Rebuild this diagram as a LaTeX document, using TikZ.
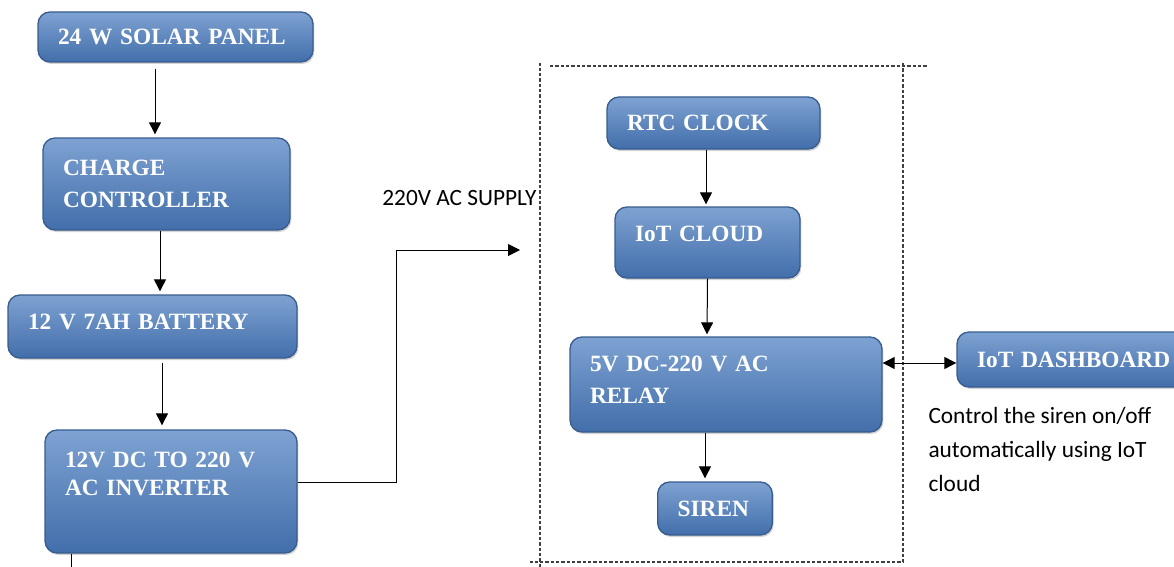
\documentclass[tikz,border=0pt]{standalone}
\usepackage{fontspec}
\setmainfont{Liberation Serif}
\newfontfamily\calibfont{Carlito}
\usetikzlibrary{arrows.meta,shadows,calc}

\definecolor{blktop}{RGB}{126,162,210}
\definecolor{blkbot}{RGB}{66,110,170}
\definecolor{blkedge}{RGB}{56,92,142}

\tikzset{every picture/.style={line width=0.75pt}}

\begin{document}
\begin{tikzpicture}[x=0.75pt,y=0.75pt,yscale=-1,xscale=1,
  blk/.style={rectangle, rounded corners=9pt, top color=blktop, bottom color=blkbot, draw=blkedge, line width=1pt,
    drop shadow={shadow xshift=1pt,shadow yshift=-1.5pt,opacity=0.35},
    align=left, inner xsep=15pt, inner ysep=2pt, text=white, font=\fontsize{17.5}{24}\selectfont\bfseries},
  arr/.style={-{Triangle[length=9pt,width=9pt]}},
  arr2/.style={{Triangle[length=9pt,width=9pt]}-{Triangle[length=9pt,width=9pt]}},
  dashbox/.style={draw=black!75, dash pattern=on 2.5pt off 1.5pt, line width=0.9pt},
  note/.style={font=\calibfont\fontsize{17.5}{25.5}\selectfont, inner sep=0pt}]
\useasboundingbox (0,0) rectangle (1174,567);

%Dashed frame round the IoT part
\draw[dashbox] (540,567) -- (540,63);
\draw[dashbox] (550,66) -- (928,66);
\draw[dashbox] (903,63) -- (903,562) -- (530,562);

%Power side
\node[blk, text width=176.25pt, minimum height=37.5pt] (solar) at (175.5,37) {24 W SOLAR PANEL};
\node[blk, text width=155.25pt, minimum height=69pt] (charge) at (166.5,184) {CHARGE\\CONTROLLER};
\node[blk, text width=186.75pt, minimum height=47.25pt, text depth=7pt] (batt) at (152.5,326.5) {12 V 7AH BATTERY};
\node[blk, text width=159pt, minimum height=92.25pt, text depth=47pt, font=\fontsize{17.5}{21}\selectfont\bfseries] (inv) at (171,491.5) {12V DC TO 220 V\\AC INVERTER};

%IoT side
\node[blk, text width=129.75pt, minimum height=39pt] (rtc) at (713.5,123) {RTC CLOCK};
\node[blk, text width=108.75pt, minimum height=53.25pt, text depth=13pt] (cloud) at (707.5,242.5) {IoT CLOUD};
\node[blk, text width=204pt, minimum height=71.25pt, text depth=30.5pt] (relay) at (726,384.5) {5V DC-220 V AC\\RELAY};
\node[blk, text width=56pt, minimum height=39.75pt] (siren) at (715,508.5) {SIREN};
\node[blk, text width=150pt, minimum height=41.25pt] (dash) at (1077,359.5) {IoT DASHBOARD};

% Text Node
\node[note, anchor=east] (acsup) at (537,198) {220V AC SUPPLY};
% Text Node
\node[note, align=left, anchor=north west] (ctrl) at (928,407) {Control the siren on/off\\automatically using IoT\\cloud};

%Connectors
\coordinate (bend) at (396,250);
\coordinate (acin) at (520,250);
\coordinate (invout) at (71,575);
\draw[arr] ($(solar.south)+(-20.5,6)$) -- ($(charge.north)+(-11.5,-3)$);
\draw[arr] ($(charge.south)+(-6.5,0)$) -- ($(batt.north)+(7.5,-3)$);
\draw[arr] ($(batt.south)+(9.5,4)$) -- ($(inv.north)+(-9,-4)$);
\draw[arr] ($(inv.east)+(0,-9)$) -| (bend) -- (acin);
\draw (inv.south -| invout) -- (invout);
\draw[arr] ($(rtc.south)+(-7.5,0)$) -- ($(cloud.north)+(-1.5,-2)$);
\draw[arr] (cloud.south) -- ($(relay.north)+(-19,-2)$);
\draw[arr] ($(relay.south)+(-21,0)$) -- ($(siren.north)+(-10,-3)$);
\draw[arr2] ($(relay.east)+(0,-21.5)$) -- ($(dash.west)+(0,3.5)$);

\end{tikzpicture}
\end{document}
